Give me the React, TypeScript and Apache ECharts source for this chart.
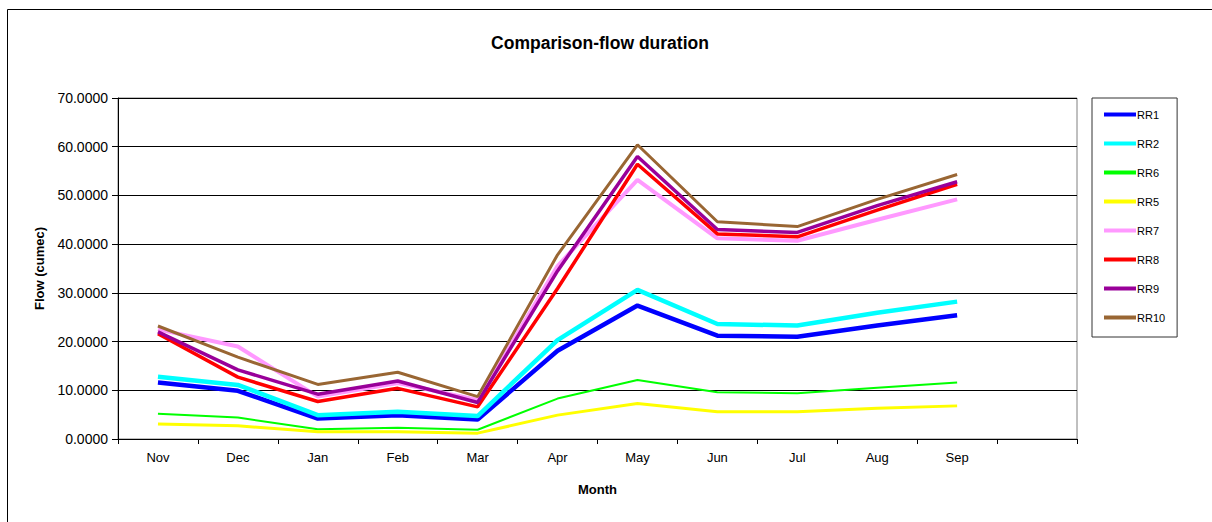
import React, { useEffect, useRef } from "react";
import * as echarts from "echarts";

const months = ["Nov", "Dec", "Jan", "Feb", "Mar", "Apr", "May", "Jun", "Jul", "Aug", "Sep", ""];
const seriesNames = ["RR1", "RR2", "RR6", "RR5", "RR7", "RR8", "RR9", "RR10"];
const rr1 = [11.6, 9.9, 4.2, 4.9, 4.0, 18.1, 27.4, 21.2, 21.0, 23.3, 25.4];
const rr2 = [12.8, 11.1, 4.9, 5.6, 4.7, 20.3, 30.6, 23.6, 23.3, 25.9, 28.2];
const rr6 = [5.2, 4.4, 2.0, 2.3, 1.9, 8.3, 12.1, 9.6, 9.4, 10.5, 11.6];
const rr5 = [3.1, 2.7, 1.5, 1.5, 1.2, 4.9, 7.3, 5.6, 5.6, 6.3, 6.8];
const rr7 = [22.5, 19.0, 8.7, 11.5, 8.0, 35.5, 53.2, 41.2, 40.7, 45.0, 49.2];
const rr8 = [21.6, 12.7, 7.7, 10.4, 6.6, 30.9, 56.4, 42.1, 41.5, 47.0, 52.3];
const rr9 = [22.0, 14.2, 9.2, 11.9, 7.5, 34.5, 58.0, 43.0, 42.4, 47.9, 52.8];
const rr10 = [23.2, 16.8, 11.2, 13.7, 8.7, 37.8, 60.4, 44.6, 43.6, 49.2, 54.3];
const yTicks = [0, 10, 20, 30, 40, 50, 60, 70];

const allData = [rr1, rr2, rr6, rr5, rr7, rr8, rr9, rr10];
const colors = ["#0000FF", "#00FFFF", "#00FF00", "#FFFF00", "#FF99FF", "#FF0000", "#990099", "#996633"];
const widths = [4.5, 4.5, 2, 3, 4, 3.5, 3.5, 3];

export default function App() {
  const ref = useRef<HTMLDivElement>(null);
  useEffect(() => {
    if (!ref.current) return;
    const chart = echarts.init(ref.current, undefined, { renderer: "svg" });
    const font = "Liberation Sans, Arial, sans-serif";
    chart.setOption({
      animation: false,
      backgroundColor: "#ffffff",
      title: {
        text: "Comparison-flow duration",
        left: 595,
        top: 29,
        textAlign: "center",
        textStyle: { fontFamily: font, fontSize: 17.5, fontWeight: "bold", color: "#000" },
      },
      graphic: [
        {
          type: "rect",
          shape: { x: 7.5, y: 9.5, width: 1300, height: 600 },
          style: { fill: "none", stroke: "#000", lineWidth: 1 },
          silent: true,
        },
      ],
      legend: {
        orient: "vertical",
        left: 1092,
        top: 98,
        width: 86,
        data: seriesNames.map((n) => ({ name: n, icon: "rect" })),
        itemWidth: 32,
        itemHeight: 4,
        itemGap: 18,
        padding: [11, 12, 14, 12],
        borderColor: "#333",
        borderWidth: 1,
        backgroundColor: "#fff",
        textStyle: { fontFamily: font, fontSize: 11, color: "#000", padding: [0, 0, 0, -4] },
      },
      grid: {
        left: 118,
        right: 135,
        top: 98,
        bottom: 83,
        show: true,
        borderColor: "#808080",
        borderWidth: 1,
        containLabel: false,
      },
      xAxis: {
        type: "category",
        data: months,
        boundaryGap: true,
        name: "Month",
        nameLocation: "middle",
        nameGap: 44,
        nameTextStyle: { fontFamily: font, fontSize: 13, fontWeight: "bold", color: "#000" },
        axisLine: { lineStyle: { color: "#000", width: 1 } },
        axisTick: { show: true, length: 5, alignWithLabel: false, lineStyle: { color: "#000" } },
        axisLabel: { fontFamily: font, fontSize: 13, color: "#000", margin: 12, interval: 0 },
        splitLine: { show: false },
      },
      yAxis: {
        type: "value",
        min: 0,
        max: 70,
        interval: 10,
        name: "Flow (cumec)",
        nameLocation: "middle",
        nameGap: 72,
        nameTextStyle: { fontFamily: font, fontSize: 13, fontWeight: "bold", color: "#000" },
        axisLine: { show: true, lineStyle: { color: "#000", width: 1 } },
        axisTick: { show: true, length: 6, lineStyle: { color: "#000" } },
        axisLabel: {
          fontFamily: font,
          fontSize: 14,
          color: "#000",
          margin: 10,
          formatter: (v: number) => (yTicks.includes(v) ? v.toFixed(4) : ""),
        },
        splitLine: { show: true, lineStyle: { color: "#000", width: 1 } },
      },
      series: allData.map((d, i) => ({
        name: seriesNames[i],
        type: "line",
        data: d,
        symbol: "none",
        showSymbol: false,
        color: colors[i],
        lineStyle: { color: colors[i], width: widths[i] },
      })),
    });
    return () => chart.dispose();
  }, []);
  return (
    <div
      ref={ref}
      style={{ position: "fixed", left: 0, top: 0, width: 1212, height: 522 }}
    />
  );
}
